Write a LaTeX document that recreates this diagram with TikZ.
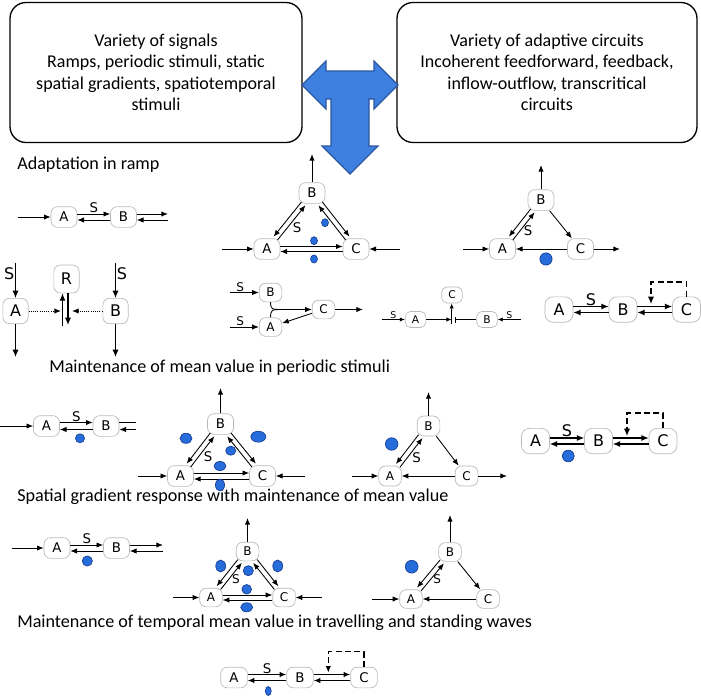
\documentclass[tikz,border=0pt]{standalone}
\usepackage{fontspec}
\setmainfont{Carlito}
\newfontfamily\dejavu{DejaVu Sans}
\usetikzlibrary{arrows.meta}
\definecolor{arrowblue}{RGB}{62,128,224}
\definecolor{arrowedge}{RGB}{44,86,160}
\definecolor{dotblue}{RGB}{38,108,218}
\definecolor{dotedge}{RGB}{22,62,150}
\newcommand{\molfont}[1]{\dejavu\fontsize{#1}{#1}\selectfont}

\begin{document}
\begin{tikzpicture}[x=0.75pt, y=-0.75pt,
  bigbox/.style={draw, line width=1pt, rounded corners=12pt, align=center, inner sep=0pt, font=\fontsize{13.5}{16.1}\selectfont},
  heading/.style={anchor=base west, inner sep=0pt, font=\fontsize{13.6}{16}\selectfont},
  mol/.style={draw=gray!55, line width=0.5pt, fill=white, rounded corners=5pt, inner sep=0pt, minimum width=19.5pt, minimum height=15.5pt, font=\molfont{10}},
  smol/.style={mol, minimum width=17pt, minimum height=14pt, font=\molfont{9}},
  tmol/.style={mol, minimum width=15.5pt, minimum height=12pt, rounded corners=4pt, font=\molfont{8}},
  bmol/.style={mol, minimum width=21pt, minimum height=19pt, rounded corners=6pt, font=\molfont{12}},
  lbl/.style={inner sep=0.5pt, font=\molfont{10}},
  ar/.style={-{Latex[length=5pt,width=4pt]}, line width=0.65pt},
  small ar/.style={-{Latex[length=3.8pt,width=3.2pt]}, line width=0.6pt},
  heavy/.style={-{Latex[length=5.5pt,width=4.6pt]}, line width=0.9pt},
  feedback/.style={dash pattern=on 4.5pt off 2.5pt},
  nudge/.style={transform canvas={shift={#1}}},
  blob/.style={fill=dotblue, draw=dotedge, line width=0.5pt}
]
\useasboundingbox (0,0) rectangle (701,696);

\node[bigbox, minimum width=219pt, minimum height=105pt] (signals) at (156,72.5) {Variety of signals\\Ramps, periodic stimuli, static\\spatial gradients, spatiotemporal\\stimuli};
\node[bigbox, minimum width=225pt, minimum height=105pt] (circuits) at (547,72.5) {Variety of adaptive circuits\\Incoherent feedforward, feedback,\\inflow-outflow, transcritical\\circuits};

\filldraw[fill=arrowblue, draw=arrowedge, line width=0.8pt] (302,85) -- (326,61) -- (326,71) -- (374,71) -- (374,61) -- (398,85) -- (374,109) -- (374,99) -- (369,99) -- (369,146) -- (378,146) -- (350,174) -- (322,146) -- (331,146) -- (331,99) -- (326,99) -- (326,109) -- cycle;

\node[heading] (ramp) at (17,169) {Adaptation in ramp};
\node[heading] (periodic) at (49,372) {Maintenance of mean value in periodic stimuli};
\node[heading] (spatial) at (17,501) {Spatial gradient response with maintenance of mean value};
\node[heading] (waves) at (17,627) {Maintenance of temporal mean value in travelling and standing waves};

% ramp, first row
\node[mol] (r1 A) at (64,217) {A};
\node[mol] (r1 B) at (123.5,217) {B};
\coordinate (r1 in) at (18,217);
\coordinate (r1 out) at (168,217);
\draw[ar] (r1 in) -- (r1 A);
\draw[ar, nudge={(0,-3)}] (r1 A) -- (r1 B) node[lbl, midway, above] (r1 S) {S};
\draw[ar, nudge={(0,3)}] (r1 B) -- (r1 A);
\draw[ar, nudge={(0,-3)}] (r1 B) -- (r1 out);
\draw[ar, nudge={(0,3)}] (r1 out) -- (r1 B);

\node[mol] (r2 B) at (312,193) {B};
\node[mol] (r2 A) at (267,249) {A};
\node[mol] (r2 C) at (356,249) {C};
\coordinate (r2 top) at (312,154);
\coordinate (r2 in A) at (222,249);
\coordinate (r2 in C) at (400,249);
\draw[ar] (r2 B) -- (r2 top);
\draw[ar] (r2 in A) -- (r2 A);
\draw[ar] (r2 in C) -- (r2 C);
\draw[ar, nudge={(0,-2.5)}] (r2 A) -- (r2 C);
\draw[ar, nudge={(0,2.5)}] (r2 C) -- (r2 A);
\draw[ar, nudge={(-2,-1.6)}] (r2 B) -- (r2 A);
\draw[ar, nudge={(2,1.6)}] (r2 A) -- (r2 B);
\draw[ar, nudge={(2,-1.6)}] (r2 B) -- (r2 C);
\draw[ar, nudge={(-2,1.6)}] (r2 C) -- (r2 B);
\node[lbl] (r2 S) at (297,228) {S};
\filldraw[blob] (325,222.7) ellipse [x radius=2.6pt, y radius=3pt];
\filldraw[blob] (314,240.7) ellipse [x radius=2.6pt, y radius=3pt];
\filldraw[blob] (314,259) ellipse [x radius=2.6pt, y radius=3pt];

\node[mol] (r3 B) at (541,200) {B};
\node[mol] (r3 A) at (502.5,249) {A};
\node[mol] (r3 C) at (580.5,249) {C};
\coordinate (r3 top) at (541,165);
\coordinate (r3 in) at (463,249);
\coordinate (r3 out) at (620,249);
\draw[ar] (r3 B) -- (r3 top);
\draw[ar] (r3 in) -- (r3 A);
\draw[ar] (r3 C) -- (r3 out);
\draw[ar] (r3 C) -- (r3 A);
\draw[ar, nudge={(-2,-1.6)}] (r3 B) -- (r3 A);
\draw[ar, nudge={(2,1.6)}] (r3 A) -- (r3 B);
\draw[ar] (r3 B) -- (r3 C);
\node[lbl] (r3 S) at (528,231) {S};
\filldraw[blob] (546,259) circle [radius=4.6pt];

% ramp, second row
\node[mol, minimum width=19pt, minimum height=19pt, font=\molfont{12}] (r4 A) at (15.5,311) {A};
\node[mol, minimum width=19pt, minimum height=21pt, font=\molfont{12}] (r4 R) at (66.5,279) {R};
\node[mol, minimum width=19pt, minimum height=19pt, font=\molfont{12}] (r4 B) at (115.5,311) {B};
\coordinate (r4 in A) at (15.5,263);
\coordinate (r4 out A) at (15.5,357);
\coordinate (r4 in B) at (115.5,263);
\coordinate (r4 out B) at (115.5,357);
\coordinate (r4 hit A) at (61,311);
\coordinate (r4 hit B) at (72,311);
\coordinate (r4 up) at (62.5,326);
\coordinate (r4 down) at (68,325);
\draw[heavy] (r4 in A) -- (r4 A) node[lbl, pos=0.3, left, font=\molfont{12}] (r4 SA) {S};
\draw[heavy] (r4 A) -- (r4 out A);
\draw[heavy] (r4 in B) -- (r4 B) node[lbl, pos=0.3, right, font=\molfont{12}] (r4 SB) {S};
\draw[heavy] (r4 B) -- (r4 out B);
\draw[ar, densely dotted] (r4 A) -- (r4 hit A);
\draw[ar, densely dotted] (r4 B) -- (r4 hit B);
\draw[heavy] (r4 up) -- (r4 up |- r4 R.south);
\draw[heavy] (r4 down |- r4 R.south) -- (r4 down);

\node[smol] (r5 B) at (270.5,292.5) {B};
\node[smol] (r5 A) at (270.5,327) {A};
\node[smol] (r5 C) at (323.5,309.5) {C};
\coordinate (r5 in B) at (230,292.5);
\coordinate (r5 in A) at (230,327);
\coordinate (r5 join) at (283,309.5);
\coordinate (r5 out) at (363,309.5);
\draw[ar] (r5 in B) -- (r5 B) node[lbl, pos=0.35, above, font=\molfont{9}] (r5 SB) {S};
\draw[ar] (r5 in A) -- (r5 A) node[lbl, pos=0.35, above, font=\molfont{9}] (r5 SA) {S};
\draw[line width=0.65pt] (r5 B.south) .. controls (271,309.5) .. (r5 join);
\draw[line width=0.65pt] (r5 A.north) .. controls (271,309.5) .. (r5 join);
\draw[ar] (r5 join) -- (r5 C);
\draw[ar] (r5 C) -- (r5 A);
\draw[ar] (r5 C) -- (r5 out);

\node[tmol] (r6 A) at (415.5,319.5) {A};
\node[tmol] (r6 C) at (452,295) {C};
\node[tmol] (r6 B) at (487,319.5) {B};
\coordinate (r6 in A) at (382,319.5);
\coordinate (r6 in B) at (521,319.5);
\coordinate (r6 join) at (451.5,319.5);
\coordinate (r6 bar top) at (451.5,315);
\coordinate (r6 bar bottom) at (451.5,324);
\coordinate (r6 stop) at (455,319.5);
\draw[small ar] (r6 in A) -- (r6 A) node[lbl, midway, above, font=\molfont{7}] (r6 SA) {S};
\draw[small ar] (r6 A) -- (r6 join);
\draw[line width=0.6pt] (r6 bar top) -- (r6 bar bottom);
\draw[small ar] (r6 bar top) -- (r6 C);
\draw[-{Bar[width=4.5pt]}, line width=0.6pt] (r6 B) -- (r6 stop);
\draw[small ar] (r6 in B) -- (r6 B) node[lbl, midway, above, font=\molfont{7}] (r6 SB) {S};

\node[bmol] (r7 A) at (559,309.5) {A};
\node[bmol] (r7 B) at (623,309.5) {B};
\node[bmol] (r7 C) at (686.5,309.5) {C};
\coordinate (r7 loop) at (651,282);
\draw[heavy, nudge={(0,-3)}] (r7 A) -- (r7 B) node[lbl, midway, above, font=\molfont{12}] (r7 S) {S};
\draw[heavy, nudge={(0,3)}] (r7 B) -- (r7 A);
\draw[heavy, nudge={(0,-3)}] (r7 B) -- (r7 C);
\draw[heavy, nudge={(0,3)}] (r7 C) -- (r7 B);
\draw[heavy, feedback] (r7 C.north) |- (r7 loop) -- ++(0,22);

% periodic stimuli
\node[mol] (p1 A) at (46.5,426) {A};
\node[mol] (p1 B) at (106,426) {B};
\coordinate (p1 in) at (0,426);
\coordinate (p1 end) at (136,426);
\draw[ar] (p1 in) -- (p1 A);
\draw[ar, nudge={(0,-3.5)}] (p1 A) -- (p1 B) node[lbl, midway, above] (p1 S) {S};
\draw[ar, nudge={(0,3.5)}] (p1 B) -- (p1 A);
\draw[line width=0.65pt, nudge={(0,-3.5)}] (p1 B) -- (p1 end);
\draw[ar, nudge={(0,3.5)}] (p1 end) -- (p1 B);
\filldraw[blob] (80,438.3) circle [radius=3.4pt];

\node[mol] (p2 B) at (220.5,424) {B};
\node[mol] (p2 A) at (180.5,476) {A};
\node[mol] (p2 C) at (262.5,476) {C};
\coordinate (p2 top) at (220.5,388);
\coordinate (p2 in A) at (138,476);
\coordinate (p2 in C) at (305,476);
\draw[ar] (p2 B) -- (p2 top);
\draw[ar] (p2 in A) -- (p2 A);
\draw[ar] (p2 in C) -- (p2 C);
\draw[ar, nudge={(0,-3)}] (p2 A) -- (p2 C);
\draw[ar, nudge={(0,3)}] (p2 C) -- (p2 A);
\draw[ar, nudge={(-2,-1.6)}] (p2 B) -- (p2 A);
\draw[ar, nudge={(2,1.6)}] (p2 A) -- (p2 B);
\draw[ar, nudge={(2,-1.6)}] (p2 B) -- (p2 C);
\draw[ar, nudge={(-2,1.6)}] (p2 C) -- (p2 B);
\node[lbl] (p2 S) at (208,457) {S};
\filldraw[blob] (186,438.3) ellipse [x radius=4.5pt, y radius=3.8pt];
\filldraw[blob] (258.3,436.7) ellipse [x radius=5.6pt, y radius=4.1pt];
\filldraw[blob] (230.7,450.7) ellipse [x radius=3.8pt, y radius=3.4pt];
\filldraw[blob] (220,466) ellipse [x radius=4.5pt, y radius=3.4pt];
\filldraw[blob] (220,485) ellipse [x radius=3.4pt, y radius=4.5pt];

\node[smol, minimum height=15pt] (p3 B) at (428.5,426) {B};
\node[smol, minimum height=15pt] (p3 A) at (390,476) {A};
\node[smol, minimum height=15pt] (p3 C) at (466.5,476) {C};
\coordinate (p3 top) at (428.5,392);
\coordinate (p3 in) at (352,476);
\coordinate (p3 out) at (507,476);
\draw[ar] (p3 B) -- (p3 top);
\draw[ar] (p3 in) -- (p3 A);
\draw[ar] (p3 C) -- (p3 out);
\draw[ar] (p3 C) -- (p3 A);
\draw[ar, nudge={(-2,-1.6)}] (p3 B) -- (p3 A);
\draw[ar, nudge={(2,1.6)}] (p3 A) -- (p3 B);
\draw[ar] (p3 B) -- (p3 C);
\node[lbl] (p3 S) at (416.7,457.3) {S};
\filldraw[blob] (391.7,444) circle [radius=4.7pt];

\node[bmol] (p4 A) at (535.5,441) {A};
\node[bmol] (p4 B) at (598.5,441) {B};
\node[bmol] (p4 C) at (663,441) {C};
\coordinate (p4 loop) at (627,413);
\draw[heavy, nudge={(0,-3)}] (p4 A) -- (p4 B) node[lbl, midway, above, font=\molfont{12}] (p4 S) {S};
\draw[heavy, nudge={(0,3)}] (p4 B) -- (p4 A);
\draw[heavy, nudge={(0,-3)}] (p4 B) -- (p4 C);
\draw[heavy, nudge={(0,3)}] (p4 C) -- (p4 B);
\draw[heavy, feedback] (p4 C.north) |- (p4 loop) -- ++(0,23);
\filldraw[blob] (568.3,456) circle [radius=4.4pt];

% spatial gradients
\node[mol] (s1 A) at (57,548) {A};
\node[mol] (s1 B) at (116.5,548) {B};
\coordinate (s1 in) at (11.7,548);
\coordinate (s1 out) at (163,548);
\draw[ar] (s1 in) -- (s1 A);
\draw[ar, nudge={(0,-3)}] (s1 A) -- (s1 B) node[lbl, midway, above] (s1 S) {S};
\draw[ar, nudge={(0,3)}] (s1 B) -- (s1 A);
\draw[ar, nudge={(0,-3)}] (s1 B) -- (s1 out);
\draw[ar, nudge={(0,3)}] (s1 out) -- (s1 B);
\filldraw[blob] (87.3,561) circle [radius=3.8pt];

\node[smol] (s2 B) at (247.5,551.5) {B};
\node[smol] (s2 A) at (211,597.5) {A};
\node[smol] (s2 C) at (284,597.5) {C};
\coordinate (s2 top) at (247.5,518);
\coordinate (s2 in A) at (173.3,597.5);
\coordinate (s2 in C) at (321.7,597.5);
\draw[ar] (s2 B) -- (s2 top);
\draw[ar] (s2 in A) -- (s2 A);
\draw[ar] (s2 in C) -- (s2 C);
\draw[ar, nudge={(0,-2.5)}] (s2 A) -- (s2 C);
\draw[ar, nudge={(0,2.5)}] (s2 C) -- (s2 A);
\draw[ar, nudge={(-2,-1.6)}] (s2 B) -- (s2 A);
\draw[ar, nudge={(2,1.6)}] (s2 A) -- (s2 B);
\draw[ar, nudge={(2,-1.6)}] (s2 B) -- (s2 C);
\draw[ar, nudge={(-2,1.6)}] (s2 C) -- (s2 B);
\node[lbl, font=\molfont{9}] (s2 S) at (236,579.3) {S};
\filldraw[blob] (220.7,566) ellipse [x radius=3.7pt, y radius=4.5pt];
\filldraw[blob] (248.3,570.7) circle [radius=3.8pt];
\filldraw[blob] (277.7,566) ellipse [x radius=3.7pt, y radius=4.5pt];
\filldraw[blob] (246.7,589.3) circle [radius=3.6pt];
\filldraw[blob] (246.7,607.3) ellipse [x radius=4.5pt, y radius=3.4pt];

\node[smol] (s3 B) at (450,552) {B};
\node[smol] (s3 A) at (411,599) {A};
\node[smol] (s3 C) at (488,599) {C};
\coordinate (s3 top) at (450,515);
\coordinate (s3 in) at (371.7,599);
\draw[ar] (s3 B) -- (s3 top);
\draw[ar] (s3 in) -- (s3 A);
\draw[ar] (s3 C) -- (s3 A);
\draw[ar, nudge={(-2,-1.6)}] (s3 B) -- (s3 A);
\draw[ar, nudge={(2,1.6)}] (s3 A) -- (s3 B);
\draw[ar] (s3 B) -- (s3 C);
\node[lbl, font=\molfont{9}] (s3 S) at (437.3,579.3) {S};
\filldraw[blob] (411.7,566.7) circle [radius=4.8pt];

% waves
\node[mol, minimum width=20pt] (t1 A) at (234,677.5) {A};
\node[mol, minimum width=20pt] (t1 B) at (300,677.5) {B};
\node[mol, minimum width=20pt] (t1 C) at (364,677.5) {C};
\coordinate (t1 loop) at (328.3,651.7);
\draw[ar, line width=0.8pt, nudge={(0,-3)}] (t1 A) -- (t1 B) node[lbl, midway, above] (t1 S) {S};
\draw[ar, line width=0.8pt, nudge={(0,3)}] (t1 B) -- (t1 A);
\draw[ar, line width=0.8pt, nudge={(0,-3)}] (t1 B) -- (t1 C);
\draw[ar, line width=0.8pt, nudge={(0,3)}] (t1 C) -- (t1 B);
\draw[ar, line width=0.8pt, feedback] (t1 C.north) |- (t1 loop) -- ++(0,21);
\filldraw[blob] (268.3,691) ellipse [x radius=2.2pt, y radius=3.4pt];
\end{tikzpicture}
\end{document}
